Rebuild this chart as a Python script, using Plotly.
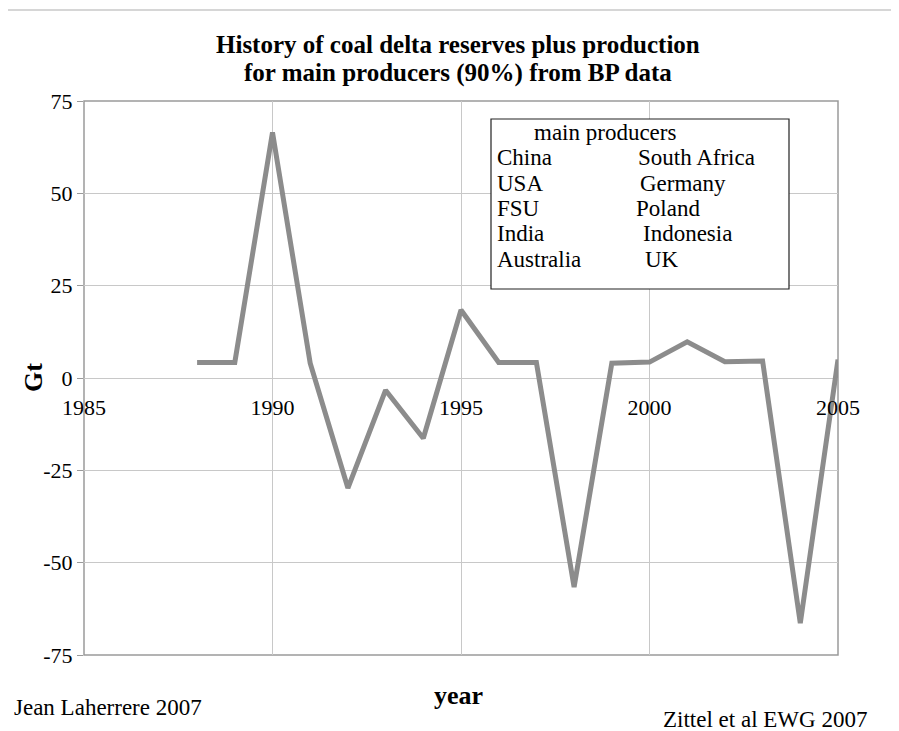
import plotly.graph_objects as go

# ---- data ----
years = list(range(1988, 2006))
delta_gt = [4.2, 4.2, 66.5, 4.0, -29.8, -3.3, -16.3, 18.4, 4.2, 4.2,
            -56.6, 4.0, 4.3, 9.8, 4.4, 4.6, -66.4, 5.0]
x_ticks = [1985, 1990, 1995, 2000, 2005]
y_ticks = [-75, -50, -25, 0, 25, 50, 75]
y_tick_text = ["-75", "-50", "-25", "0", "25", "50", "75"]
legend_title = "main producers"
producers_col1 = ["China", "USA", "FSU", "India", "Australia"]
producers_col2 = ["South Africa", "Germany", "Poland", "Indonesia", "UK"]
title_lines = ["History of coal delta reserves plus production",
               "for main producers (90%) from BP data"]

# page body adds an 8px offset, so the figure is 8px smaller than the window
OFF = 8
W, H = 899 - OFF, 731 - OFF
L, R, T, B = 84, 838, 101, 655  # plot area in window pixels


def px(x):
    return (x - L) / (R - L)


def py(y):
    return (B - y) / (B - T)


FONT = "Liberation Serif, Times New Roman, serif"

fig = go.Figure()
fig.add_trace(go.Scatter(
    x=years, y=delta_gt, mode="lines",
    line=dict(color="#8c8c8c", width=5),
    showlegend=False, hoverinfo="x+y",
))

shapes = [
    dict(type="rect", xref="paper", yref="paper", x0=0, x1=1, y0=0, y1=1,
         line=dict(color="#9a9a9a", width=1.5), layer="below"),
    dict(type="rect", xref="paper", yref="paper",
         x0=px(491), x1=px(789), y0=py(289), y1=py(119),
         line=dict(color="#222222", width=1.2), fillcolor="white", layer="above"),
    dict(type="line", xref="paper", yref="paper",
         x0=px(7), x1=px(899), y0=py(10), y1=py(10),
         line=dict(color="#c8c8c8", width=1.5)),
    dict(type="line", xref="paper", yref="paper",
         x0=px(7), x1=px(7), y0=py(10), y1=py(731),
         line=dict(color="#c8c8c8", width=1.5)),
]

LEG = 23
annotations = [dict(x=px(532), y=py(132), xref="paper", yref="paper",
                    text=legend_title, showarrow=False, xanchor="left",
                    yanchor="middle", font=dict(family=FONT, size=LEG, color="black"))]
row_y = [157, 183, 208, 234, 260]
col2_x = [636, 638, 634, 641, 643]
for i, (a, b) in enumerate(zip(producers_col1, producers_col2)):
    annotations.append(dict(x=px(495), y=py(row_y[i]), xref="paper", yref="paper",
                            text=a, showarrow=False, xanchor="left", yanchor="middle",
                            font=dict(family=FONT, size=LEG, color="black")))
    annotations.append(dict(x=px(col2_x[i]), y=py(row_y[i]), xref="paper", yref="paper",
                            text=b, showarrow=False, xanchor="left", yanchor="middle",
                            font=dict(family=FONT, size=LEG, color="black")))

for ty, line in zip([45, 73], title_lines):
    annotations.append(dict(x=px(458), y=py(ty), xref="paper", yref="paper",
                            text="<b>" + line + "</b>", showarrow=False,
                            xanchor="center", yanchor="middle", borderpad=0,
                            font=dict(family=FONT, size=25, color="black")))

annotations += [
    dict(x=px(458), y=py(695), xref="paper", yref="paper", text="<b>year</b>",
         showarrow=False, xanchor="center", yanchor="middle",
         font=dict(family=FONT, size=26, color="black")),
    dict(x=px(33), y=py(378), xref="paper", yref="paper", text="<b>Gt</b>",
         showarrow=False, xanchor="center", yanchor="middle", textangle=-90,
         font=dict(family=FONT, size=26, color="black")),
    dict(x=px(12), y=py(707), xref="paper", yref="paper", text="Jean Laherrere 2007",
         showarrow=False, xanchor="left", yanchor="middle",
         font=dict(family=FONT, size=23, color="black")),
    dict(x=px(869), y=py(719), xref="paper", yref="paper", text="Zittel et al EWG 2007",
         showarrow=False, xanchor="right", yanchor="middle",
         font=dict(family=FONT, size=23, color="black")),
]

fig.update_layout(
    width=W, height=H,
    margin=dict(l=L - OFF, r=899 - R, t=T - OFF, b=731 - B, pad=0),
    paper_bgcolor="white", plot_bgcolor="white",
    shapes=shapes, annotations=annotations,
    xaxis=dict(range=[1985, 2005], tickvals=x_ticks, anchor="free", position=0.5,
               showline=False, ticks="", showgrid=True, gridcolor="#c8c8c8",
               gridwidth=1, zeroline=False, ticklabelstandoff=14,
               tickfont=dict(family=FONT, size=22, color="black")),
    yaxis=dict(range=[-75, 75], tickvals=y_ticks, ticktext=y_tick_text,
               showline=False, ticks="outside", ticklen=6, tickcolor="#9a9a9a",
               showgrid=True, gridcolor="#c8c8c8", gridwidth=1,
               zeroline=True, zerolinecolor="#c8c8c8", zerolinewidth=1,
               tickfont=dict(family=FONT, size=22, color="black")),
)

fig.write_html("out.html")
